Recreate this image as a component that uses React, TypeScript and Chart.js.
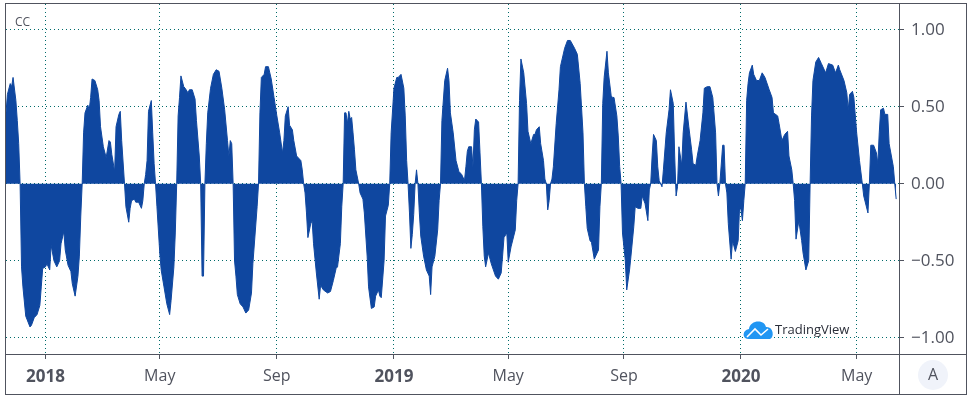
import React, { useEffect, useRef } from "react";
import { Chart, registerables } from "chart.js";

Chart.register(...registerables);

// Trading-session number of each reading (session 0 = left edge of the chart)
const sessions = [
  0,1,3,4,5,7,8,9,10,11,12,14,17,18,20,22,24,25,26,28,29,31,32,34,36,38,39,41,42,44,46,47,49,51,52,53,54,
  55,56,58,59,60,61,63,65,66,67,69,71,73,74,75,77,78,80,81,82,84,85,87,88,89,91,92,94,96,97,98,99,100,101,103,104,105,106,
  107,109,110,112,114,116,117,119,120,121,122,123,124,126,127,129,130,132,134,135,137,138,139,140,141,142,143,145,147,149,151,153,155,157,158,159,160,161,
  162,163,164,166,168,170,172,174,175,178,179,180,181,183,184,186,188,190,192,194,196,197,198,200,201,203,204,206,209,210,211,
  212,213,214,216,217,218,220,222,223,225,228,230,232,234,235,237,238,239,240,241,242,243,244,245,246,247,248,250,
  251,253,254,256,257,259,261,262,264,265,266,268,269,271,272,273,275,277,278,280,282,283,284,285,286,287,288,289,290,291,292,
  293,294,296,298,300,301,302,304,306,307,308,309,311,313,314,315,317,319,321,323,325,326,327,328,330,331,332,333,335,336,337,
  338,339,340,342,344,347,349,351,352,353,355,356,358,361,362,363,364,365,367,369,370,372,374,375,376,378,379,381,382,383,
  384,385,386,387,388,390,392,393,396,398,400,403,405,407,409,410,411,412,414,415,417,420,421,422,423,424,426,427,429,430,431,433,434,435,436,
  437,439,440,442,443,445,446,448,450,451,453,455,456,457,458,459,461,462,463,465,466,468,470,471,473,474,475,476,477,479,480,482,484,486,487,489,490,492,494,495,497,499,501,503,504,
  505,506,508,509,510,511,512,514,515,517,519,520,521,522,523,524,525,526,527,529,530,532,534,536,538,541,543,544,547,548,550,552,554,555,557,558,
  559,560,562,564,565,567,569,570,571,572,574,576,578,581,583,586,588,590,591,594,596,597,598,600,601,603,605,607,
  608,611,612,613,615,617,618,619,620,622,623,625,626,629,630,631,
];

// CC reading at each of those sessions
const cc = [
  .46,.58,.65,.63,.69,.54,.41,.26,0,-.54,-.67,-.86,-.93,-.92,-.87,-.85,-.79,-.67,-.55,-.54,-.52,-.56,-.40,-.50,-.54,-.50,-.39,-.31,-.43,-.53,-.57,-.65,-.73,-.60,-.47,-.21,0,
  .33,.46,.51,.48,.56,.68,.67,.61,.54,.37,.24,.17,.28,.27,.19,.08,.37,.45,.47,.28,0,-.15,-.25,-.16,-.11,-.10,-.12,-.12,-.16,-.11,0,.06,.15,.47,.54,.33,.13,0,
  -.15,-.45,-.56,-.67,-.78,-.85,-.76,-.54,-.32,0,.44,.56,.70,.63,.62,.59,.61,.61,.55,.41,.18,0,-.60,-.60,0,.26,.46,.62,.71,.74,.73,.62,.48,.28,.18,.28,.26,0,
  -.50,-.60,-.72,-.78,-.80,-.84,-.82,-.71,-.52,-.15,0,.46,.69,.71,.76,.76,.68,.56,.44,.33,.20,.28,.44,.50,.38,.35,.28,.18,.15,.09,0,
  -.06,-.19,-.35,-.26,-.24,-.39,-.58,-.75,-.66,-.69,-.71,-.70,-.63,-.55,-.54,-.39,-.15,0,.46,.46,.39,.47,.42,.43,.33,.22,.09,0,
  -.06,-.10,-.19,-.47,-.67,-.81,-.80,-.73,-.69,-.73,-.74,-.50,-.21,-.14,0,.33,.62,.69,.69,.71,.62,.44,.15,0,-.19,-.42,-.33,-.20,0,.09,0,
  -.19,-.34,-.47,-.56,-.60,-.72,-.54,-.47,-.30,-.11,0,.41,.67,.75,.67,.46,.33,.15,.08,.06,.02,.11,.21,.24,.24,.11,.35,.42,.40,.20,0,
  -.28,-.47,-.54,-.45,-.52,-.60,-.62,-.58,-.47,-.35,-.32,-.51,-.41,-.30,-.11,0,.54,.81,.72,.52,.34,.26,.32,.32,.35,.37,.26,.15,.03,0,
  -.17,-.11,0,.03,.11,.39,.61,.76,.88,.93,.93,.88,.84,.65,.33,0,-.15,-.29,-.37,-.38,-.49,-.43,-.15,0,.52,.69,.86,.72,.57,.56,.56,.44,.31,.11,0,
  -.32,-.50,-.69,-.56,-.47,-.28,-.15,-.16,-.16,-.08,-.13,-.24,-.04,0,.18,.32,.28,.11,.02,-.02,.09,.33,.48,.61,.52,.18,-.08,-.02,.24,.12,.33,.53,.37,.22,.13,.12,.18,.28,.46,.62,.63,.63,.56,.33,0,
  -.08,0,.25,.25,0,-.06,-.26,-.49,-.37,-.44,-.37,-.15,-.17,-.24,-.11,0,.54,.65,.72,.77,.71,.67,.67,.72,.69,.61,.56,.46,.44,.39,.28,.32,.34,.18,.09,0,
  -.11,-.36,-.24,-.37,-.45,-.56,-.50,0,.44,.67,.79,.82,.78,.72,.78,.77,.72,.77,.74,.67,.59,.48,.58,.60,.56,.33,.15,0,
  -.08,-.19,0,.25,.25,.20,.13,.33,.48,.49,.45,.45,.26,.11,0,-.10,
];

const timeTickSessions = [28, 109, 192, 275, 356, 438, 521, 603];
const timeTickLabels = ["2018", "May", "Sep", "2019", "May", "Sep", "2020", "May"];
const yearTicks = ["2018", "2019", "2020"];
const priceTicks = [1, 0.5, 0, -0.5, -1];
const priceLabels = ["1.00", "0.50", "0.00", "\u22120.50", "\u22121.00"];

const INK = "#50535e";
const BLUE = "#0f47a0";
const GRID = "#006b6b";
const FONT = '"Open Sans", sans-serif';

const overlay = {
  id: "overlay",
  afterDraw(chart: any) {
    const { ctx, chartArea: a } = chart;
    ctx.save();
    ctx.strokeStyle = INK;
    ctx.lineWidth = 1;
    ctx.strokeRect(5.5, 3.5, 961, 391);
    ctx.beginPath();
    ctx.moveTo(5, Math.round(a.bottom) + 0.5);
    ctx.lineTo(967, Math.round(a.bottom) + 0.5);
    ctx.moveTo(Math.round(a.right) + 0.5, 4);
    ctx.lineTo(Math.round(a.right) + 0.5, 394);
    ctx.stroke();

    ctx.fillStyle = INK;
    ctx.font = `12px ${FONT}`;
    ctx.textBaseline = "middle";
    ctx.textAlign = "left";
    ctx.fillText("CC", 15, 22.5);

    // auto-scale button
    ctx.fillStyle = "#f0f3fa";
    ctx.beginPath();
    ctx.arc(933, 375, 15, 0, Math.PI * 2);
    ctx.fill();
    ctx.fillStyle = INK;
    ctx.font = `16px ${FONT}`;
    ctx.textAlign = "center";
    ctx.fillText("A", 933, 375);

    // TradingView mark
    ctx.fillStyle = "#2196f3";
    ctx.beginPath();
    ctx.moveTo(748, 339);
    ctx.bezierCurveTo(742, 339, 742, 330, 749, 329);
    ctx.bezierCurveTo(750, 320, 764, 319, 766, 327);
    ctx.bezierCurveTo(773, 326, 775, 337, 770, 339);
    ctx.closePath();
    ctx.fill();
    ctx.strokeStyle = "#fff";
    ctx.lineWidth = 1.6;
    ctx.beginPath();
    ctx.moveTo(747, 337);
    ctx.lineTo(755, 329);
    ctx.lineTo(761, 335);
    ctx.lineTo(768, 329);
    ctx.stroke();
    ctx.fillStyle = "#2a2e39";
    ctx.font = `13px ${FONT}`;
    ctx.textAlign = "left";
    ctx.fillText("TradingView", 775, 330.5);
    ctx.restore();
  },
};

export default function App() {
  const ref = useRef<HTMLCanvasElement>(null);
  useEffect(() => {
    const chart = new Chart(ref.current!, {
      type: "line",
      data: {
        datasets: [
          {
            label: "CC",
            data: sessions.map((s, i) => ({ x: s, y: cc[i] })),
            borderColor: BLUE,
            backgroundColor: BLUE,
            borderWidth: 1,
            pointRadius: 0,
            tension: 0,
            fill: "origin",
          },
        ],
      },
      options: {
        animation: false,
        responsive: false,
        devicePixelRatio: 1,
        events: [],
        layout: { padding: { left: 6, top: 4, right: 5, bottom: 9 } },
        plugins: { legend: { display: false }, tooltip: { enabled: false } },
        scales: {
          x: {
            type: "linear",
            min: 0,
            max: 633,
            afterFit: (s: any) => {
              s.height = 40;
              s.paddingLeft = 0;
              s.paddingRight = 0;
            },
            afterBuildTicks: (s: any) => { s.ticks = timeTickSessions.map((value) => ({ value })); },
            border: { display: false, dash: [1, 3] },
            grid: { color: GRID, tickColor: INK, tickLength: 5, tickBorderDash: [], drawTicks: true },
            ticks: {
              autoSkip: false,
              maxRotation: 0,
              padding: 8,
              color: INK,
              font: (c: any) => {
                const year = yearTicks.includes(timeTickLabels[timeTickSessions.indexOf(c.tick?.value)]);
                return { family: FONT, size: year ? 17 : 16, weight: year ? "bold" : "normal" };
              },
              callback: (v: any) => timeTickLabels[timeTickSessions.indexOf(v)],
            },
          },
          y: {
            position: "right",
            min: -1.1058,
            max: 1.1669,
            afterFit: (s: any) => {
              s.width = 68;
              s.paddingTop = 0;
              s.paddingBottom = 0;
            },
            afterBuildTicks: (s: any) => { s.ticks = priceTicks.map((value) => ({ value })); },
            border: { display: false, dash: [1, 3] },
            grid: { color: GRID, tickColor: INK, tickLength: 5, tickBorderDash: [] },
            ticks: {
              autoSkip: false,
              padding: 7,
              color: INK,
              font: { family: FONT, size: 17 },
              callback: (v: any) => priceLabels[priceTicks.indexOf(v)],
            },
          },
        },
      },
      plugins: [overlay],
    } as any);
    return () => chart.destroy();
  }, []);
  return (
    <div style={{ position: "fixed", left: 0, top: 0, width: 972, height: 403, background: "#fff" }}>
      <canvas ref={ref} width={972} height={403} style={{ display: "block" }} />
    </div>
  );
}
